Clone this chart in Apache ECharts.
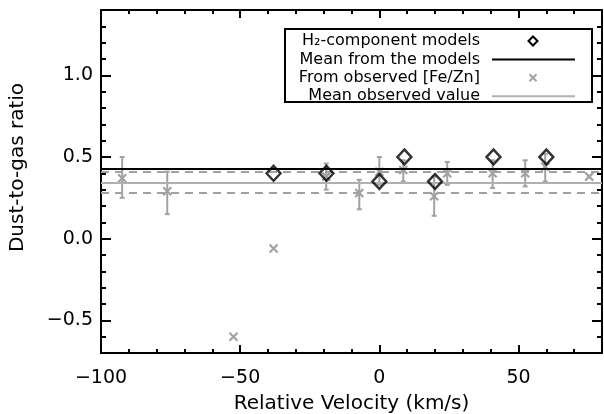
<!DOCTYPE html>
<html><head><meta charset="utf-8">
<script src="https://cdn.jsdelivr.net/npm/echarts@6/dist/echarts.min.js"></script>
<style>html,body{margin:0;padding:0;background:#fff}#c{width:604px;height:414px}</style>
</head><body><div id="c"></div>
<script>
// ---- data ----
const xMajorTicks = [-100, -50, 0, 50];
const xMinorTicks = [-90, -80, -70, -60, -40, -30, -20, -10, 10, 20, 30, 40, 60, 70];
const yMajorTicks = [-0.5, 0, 0.5, 1.0];
const yMinorTicks = [-0.6, -0.4, -0.3, -0.2, -0.1, 0.1, 0.2, 0.3, 0.4, 0.6, 0.7, 0.8, 0.9, 1.1, 1.2, 1.3];
const modelVel = [-38, -19, 0, 9, 20, 41, 60];
const modelRatio = [0.40, 0.40, 0.35, 0.50, 0.35, 0.50, 0.50];
const obsVel = [-92.4, -76.2, -52.4, -38, -19.1, -7.2, 0, 8.6, 19.7, 24.4, 40.7, 52.4, 59.6, 75.4];
const obsRatio = [0.37, 0.29, -0.60, -0.06, 0.38, 0.28, 0.41, 0.42, 0.26, 0.40, 0.40, 0.40, 0.44, 0.38];
const obsLow = [0.25, 0.15, null, null, 0.30, 0.18, 0.33, 0.35, 0.14, 0.33, 0.31, 0.32, 0.35, null];
const obsHigh = [0.50, 0.41, null, null, 0.46, 0.36, 0.50, 0.48, 0.38, 0.47, 0.48, 0.48, 0.52, null];
const meanModels = 0.43;
const meanObserved = 0.345;
const obsBandLow = 0.277;
const obsBandHigh = 0.413;
const legendLabels = ['H\u2082-component models', 'Mean from the models', 'From observed [Fe/Zn]', 'Mean observed value'];

// ---- styling ----
const FONT = 'DejaVu Sans';
const GRAY = '#a2a2a2';
const GRAY_LINE = '#b0b0b0';
const X_MIN = -100, X_MAX = 80, Y_MIN = -0.7, Y_MAX = 1.4;
const fmtNum = (v, d) => { const s = Math.abs(v).toFixed(d); return v < 0 ? '\u2212' + s : s; };

function xAxisDef(pos, ticks, len, showLine, showLabel) {
  return {
    type: 'value', position: pos, min: X_MIN, max: X_MAX,
    axisLine: { show: showLine, onZero: false, lineStyle: { color: '#000', width: 2 } },
    axisTick: { show: true, inside: true, length: len, customValues: ticks, lineStyle: { color: '#000', width: 2 } },
    axisLabel: showLabel ? { show: true, customValues: ticks, margin: 16, color: '#000', fontFamily: FONT, fontSize: 19,
      formatter: v => fmtNum(v, 0) } : { show: false },
    splitLine: { show: false },
    name: showLabel ? 'Relative Velocity (km/s)' : '',
    nameLocation: 'middle', nameGap: 41,
    nameTextStyle: { color: '#000', fontFamily: FONT, fontSize: 20 }
  };
}
function yAxisDef(pos, ticks, len, showLine, showLabel) {
  return {
    type: 'value', position: pos, min: Y_MIN, max: Y_MAX,
    axisLine: { show: showLine, onZero: false, lineStyle: { color: '#000', width: 2 } },
    axisTick: { show: true, inside: true, length: len, customValues: ticks, lineStyle: { color: '#000', width: 2 } },
    axisLabel: showLabel ? { show: true, customValues: ticks, margin: 8, color: '#000', fontFamily: FONT, fontSize: 19,
      formatter: v => fmtNum(v, 1) } : { show: false },
    splitLine: { show: false },
    name: showLabel ? 'Dust-to-gas ratio' : '',
    nameLocation: 'middle', nameGap: 73, nameRotate: 90,
    nameTextStyle: { color: '#000', fontFamily: FONT, fontSize: 20, padding: [0, 0, 0, 28] }
  };
}

const errData = [];
obsVel.forEach((v, i) => { if (obsLow[i] !== null) errData.push([v, obsLow[i], obsHigh[i]]); });
const obsData = obsVel.map((v, i) => [v, obsRatio[i]]);
const modelData = modelVel.map((v, i) => [v, modelRatio[i]]);

const chart = echarts.init(document.getElementById('c'), null, { renderer: 'canvas' });
chart.setOption({
  animation: false,
  backgroundColor: '#fff',
  grid: { left: 101, right: 2, top: 10, bottom: 61, containLabel: false, outerBoundsMode: 'none' },
  xAxis: [
    xAxisDef('bottom', xMajorTicks, 8, true, true),
    xAxisDef('bottom', xMinorTicks, 4, false, false),
    xAxisDef('top', xMajorTicks, 8, true, false),
    xAxisDef('top', xMinorTicks, 4, false, false)
  ],
  yAxis: [
    yAxisDef('left', yMajorTicks, 10, true, true),
    yAxisDef('left', yMinorTicks, 5, false, false),
    yAxisDef('right', yMajorTicks, 10, true, false),
    yAxisDef('right', yMinorTicks, 5, false, false)
  ],
  series: [
    {
      name: 'lines', type: 'line', data: [], xAxisIndex: 0, yAxisIndex: 0,
      markLine: {
        silent: true, symbol: ['none', 'none'], label: { show: false },
        data: [
          { yAxis: obsBandHigh, lineStyle: { color: GRAY, width: 2, type: [8, 6] } },
          { yAxis: obsBandLow, lineStyle: { color: GRAY, width: 2, type: [8, 6] } },
          { yAxis: meanObserved, lineStyle: { color: GRAY_LINE, width: 2, type: 'solid' } },
          { yAxis: meanModels, lineStyle: { color: '#000', width: 2, type: 'solid' } }
        ]
      }
    },
    {
      name: 'errors', type: 'custom', data: errData, xAxisIndex: 0, yAxisIndex: 0, z: 3,
      renderItem: (params, api) => {
        const x = api.value(0);
        const p1 = api.coord([x, api.value(1)]);
        const p2 = api.coord([x, api.value(2)]);
        const st = { stroke: GRAY, lineWidth: 2 };
        return { type: 'group', children: [
          { type: 'line', shape: { x1: p1[0], y1: p1[1], x2: p2[0], y2: p2[1] }, style: st },
          { type: 'line', shape: { x1: p1[0] - 2.5, y1: p1[1], x2: p1[0] + 2.5, y2: p1[1] }, style: st },
          { type: 'line', shape: { x1: p2[0] - 2.5, y1: p2[1], x2: p2[0] + 2.5, y2: p2[1] }, style: st }
        ]};
      }
    },
    {
      name: 'From observed [Fe/Zn]', type: 'custom', data: obsData, xAxisIndex: 0, yAxisIndex: 0, z: 4,
      renderItem: (params, api) => {
        const p = api.coord([api.value(0), api.value(1)]);
        const h = 4;
        const st = { stroke: GRAY, lineWidth: 2.2 };
        return { type: 'group', children: [
          { type: 'line', shape: { x1: p[0] - h, y1: p[1] - h, x2: p[0] + h, y2: p[1] + h }, style: st },
          { type: 'line', shape: { x1: p[0] - h, y1: p[1] + h, x2: p[0] + h, y2: p[1] - h }, style: st }
        ]};
      }
    },
    {
      name: 'H2-component models', type: 'scatter', data: modelData, xAxisIndex: 0, yAxisIndex: 0, z: 5,
      symbol: 'diamond', symbolSize: [14, 15],
      itemStyle: { color: 'rgba(255,255,255,0)', borderColor: '#000', borderWidth: 2.4 }
    }
  ],
  graphic: [
    { type: 'rect', z: 100, shape: { x: 285, y: 29, width: 307, height: 73 },
      style: { fill: '#fff', stroke: '#000', lineWidth: 2 } },
    ...legendLabels.map((t, i) => ({
      type: 'text', z: 101, x: 480, y: 41 + i * 18.4,
      style: { text: t, fill: '#000', font: '16px "' + FONT + '"', align: 'right', verticalAlign: 'middle' }
    })),
    { type: 'polygon', z: 101, shape: { points: [[533, 36.5], [537.5, 41], [533, 45.5], [528.5, 41]] },
      style: { fill: 'none', stroke: '#000', lineWidth: 2 } },
    { type: 'line', z: 101, shape: { x1: 492, y1: 59.4, x2: 575, y2: 59.4 }, style: { stroke: '#000', lineWidth: 2 } },
    { type: 'line', z: 101, shape: { x1: 529.5, y1: 74.3, x2: 536.5, y2: 81.3 }, style: { stroke: GRAY, lineWidth: 2 } },
    { type: 'line', z: 101, shape: { x1: 529.5, y1: 81.3, x2: 536.5, y2: 74.3 }, style: { stroke: GRAY, lineWidth: 2 } },
    { type: 'line', z: 101, shape: { x1: 492, y1: 96.2, x2: 575, y2: 96.2 }, style: { stroke: GRAY_LINE, lineWidth: 2 } }
  ]
});
</script>
</body></html>
